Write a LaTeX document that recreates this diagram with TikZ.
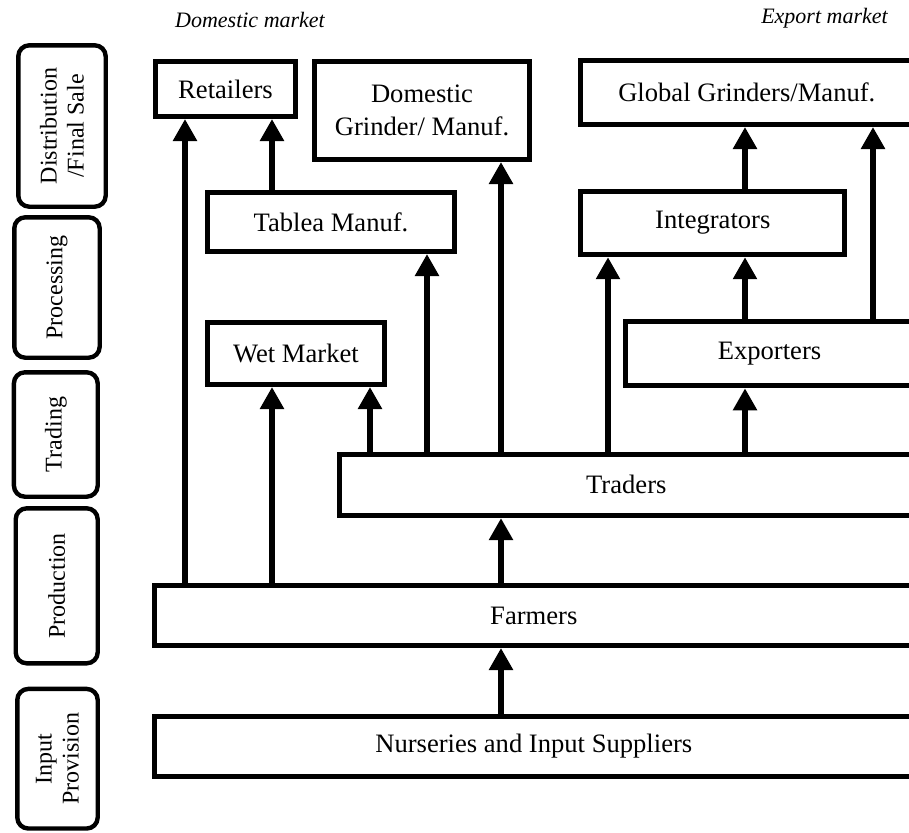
\documentclass[tikz,border=0pt]{standalone}
\usepackage{fontspec}
\setmainfont{Liberation Serif}
\usetikzlibrary{arrows.meta}

\begin{document}
\begin{tikzpicture}[x=0.5pt,y=-0.5pt,
  actor/.style={draw=black,line width=2.5pt,align=center,inner sep=0pt,
    font=\fontsize{13.3}{16.5}\selectfont},
  stage/.style={draw=black,line width=2.2pt,rounded corners=5.5pt,align=center,
    inner sep=0pt,rotate=90,font=\fontsize{12}{13.5}\selectfont},
  market/.style={font=\fontsize{11}{13}\selectfont\itshape},
  flow/.style={-{Triangle[width=11.5pt,length=11pt]},line width=3.3pt}]
\clip (0,0) rectangle (909,832);
% value chain stages
\node[stage,minimum width=80.7pt,minimum height=43.7pt] (dist) at (62,126) {Distribution\\/Final Sale};
\node[stage,minimum width=70.2pt,minimum height=42.7pt] (proc) at (57,287.5) {Processing};
\node[stage,minimum width=62.2pt,minimum height=41.9pt] (trad) at (55.8,434.5) {Trading};
\node[stage,minimum width=77.5pt,minimum height=41pt] (prod) at (56.7,585.8) {Production};
\node[stage,minimum width=69.8pt,minimum height=40.2pt] (inp) at (57.5,758.7) {Input\\Provision};
\node[market] (dom) at (250,20) {Domestic market};
\node[market] (exp) at (824.5,18) {Export market};
% actors
\node[actor,minimum width=70pt,minimum height=27.5pt] (retail) at (225.5,89) {Retailers};
\node[actor,minimum width=107.5pt,minimum height=49pt] (dgrind) at (422,110.5) {Domestic\\Grinder/ Manuf.};
\node[actor,minimum width=166.3pt,minimum height=32pt] (global) at (746.8,92.5) {Global Grinders/Manuf.};
\node[actor,minimum width=123.5pt,minimum height=29.5pt] (tablea) at (331,222) {Tablea Manuf.};
\node[actor,minimum width=132pt,minimum height=31.7pt] (integ) at (712.8,223) {Integrators};
\node[actor,minimum width=88.5pt,minimum height=31pt] (wet) at (296,353.5) {Wet Market};
\node[actor,minimum width=143.7pt,minimum height=32pt] (export) at (769.5,353.8) {Exporters};
\node[actor,minimum width=286.8pt,minimum height=30.8pt] (traders) at (626.3,484.8) {Traders};
\node[actor,minimum width=379.3pt,minimum height=30pt] (farmers) at (533.8,615.5) {Farmers};
\node[actor,minimum width=379.3pt,minimum height=30pt] (nursery) at (533.8,746.5) {Nurseries and Input Suppliers};
% arrow columns
\foreach \n/\x in {a/185,b/272,c/370,d/427,e/501,f/608,g/745,h/873}
  \coordinate (\n) at (\x,0);
\draw[flow] (a |- farmers.north) -- (a |- retail.south);
\draw[flow] (b |- farmers.north) -- (b |- wet.south);
\draw[flow] (b |- tablea.north) -- (b |- retail.south);
\draw[flow] (c |- traders.north) -- (c |- wet.south);
\draw[flow] (d |- traders.north) -- (d |- tablea.south);
\draw[flow] (e |- traders.north) -- (e |- dgrind.south);
\draw[flow] (e |- farmers.north) -- (e |- traders.south);
\draw[flow] (e |- nursery.north) -- (e |- farmers.south);
\draw[flow] (f |- traders.north) -- (f |- integ.south);
\draw[flow] (g |- traders.north) -- (g |- export.south);
\draw[flow] (g |- export.north) -- (g |- integ.south);
\draw[flow] (g |- integ.north) -- (g |- global.south);
\draw[flow] (h |- export.north) -- (h |- global.south);
\end{tikzpicture}
\end{document}
